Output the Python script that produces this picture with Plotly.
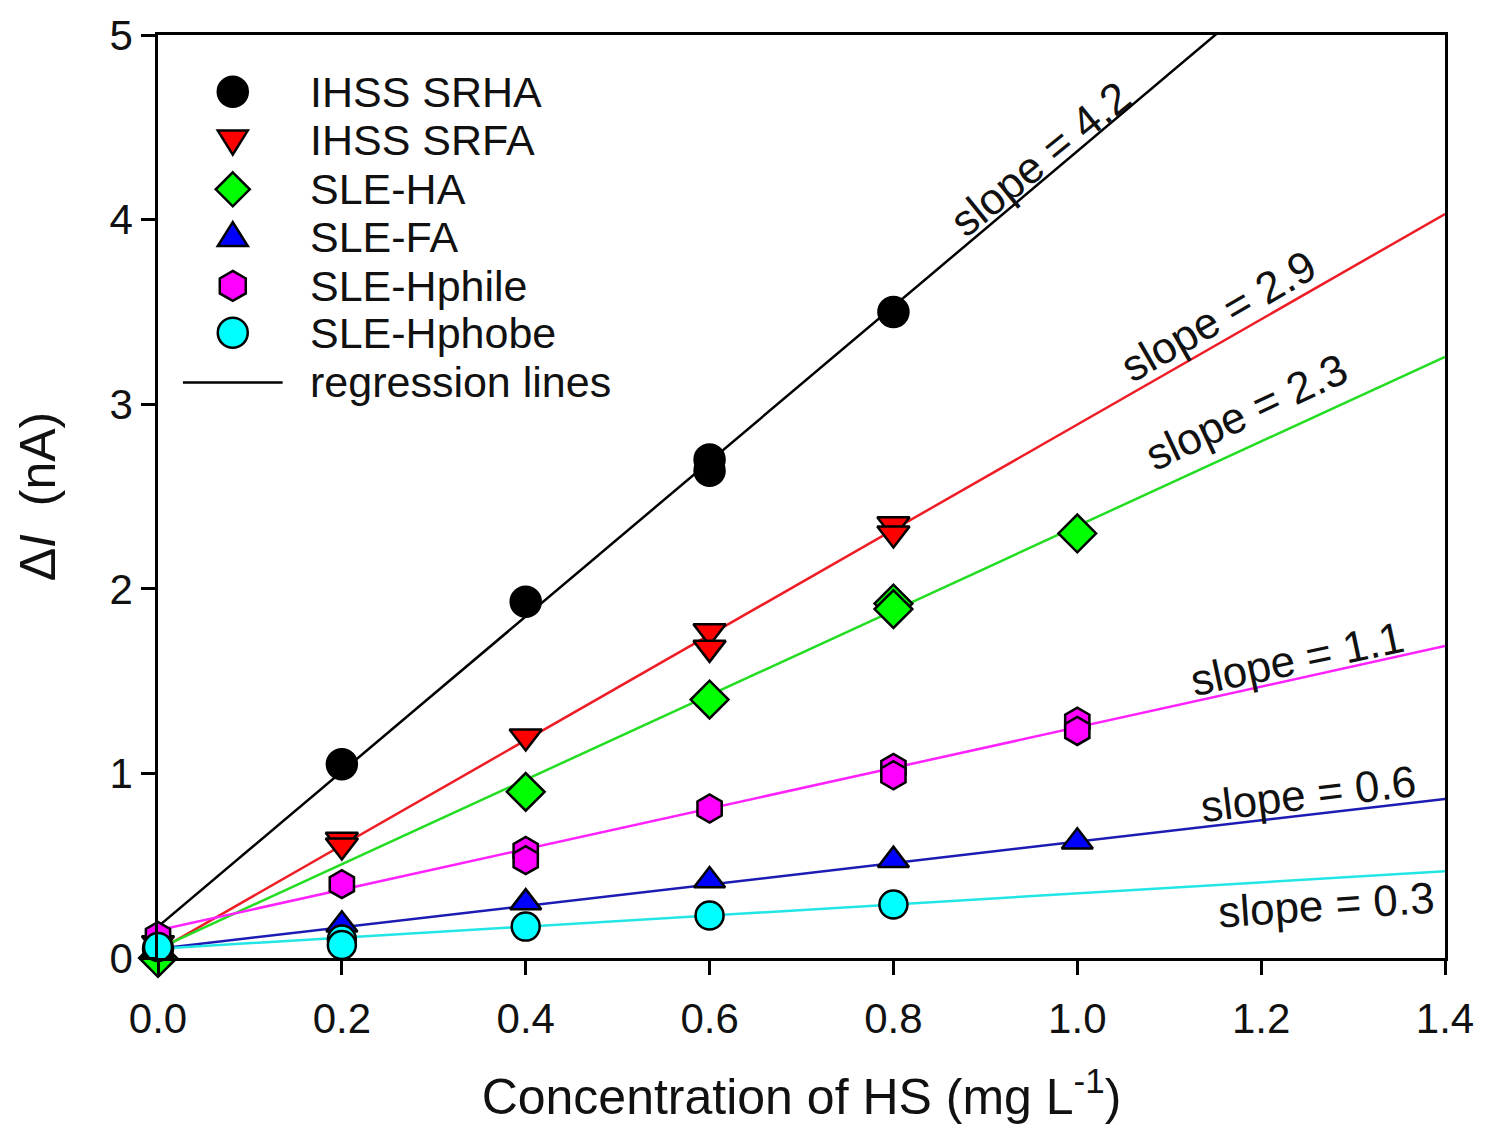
import plotly.graph_objects as go

# ---- data ----
series_names = ["IHSS SRHA", "IHSS SRFA", "SLE-HA", "SLE-FA", "SLE-Hphile", "SLE-Hphobe"]

srha_x = [0.0, 0.2, 0.4, 0.6, 0.6, 0.8]
srha_y = [0.05, 1.05, 1.93, 2.70, 2.64, 3.50]

srfa_x = [0.0, 0.2, 0.2, 0.4, 0.6, 0.6, 0.8, 0.8]
srfa_y = [0.08, 0.64, 0.61, 1.20, 1.77, 1.68, 2.35, 2.30]

sleha_x = [0.0, 0.4, 0.6, 0.8, 0.8, 1.0]
sleha_y = [0.00, 0.90, 1.40, 1.92, 1.89, 2.30]

slefa_x = [0.0, 0.2, 0.4, 0.6, 0.8, 1.0]
slefa_y = [0.04, 0.18, 0.30, 0.42, 0.53, 0.63]

hphile_x = [0.0, 0.2, 0.4, 0.4, 0.6, 0.8, 0.8, 1.0, 1.0]
hphile_y = [0.12, 0.40, 0.58, 0.53, 0.81, 1.03, 0.99, 1.28, 1.23]

hphobe_x = [0.0, 0.2, 0.2, 0.4, 0.6, 0.8]
hphobe_y = [0.06, 0.10, 0.07, 0.17, 0.23, 0.29]

# regression lines (slope, intercept), same order as series_names
reg_slopes = [4.2, 2.85, 2.29, 0.58, 1.1, 0.30]
reg_intercepts = [0.17, 0.04, 0.05, 0.05, 0.15, 0.05]
reg_x = [0.0, 1.4]

slope_labels = ["slope = 4.2", "slope = 2.9", "slope = 2.3", "slope = 1.1", "slope = 0.6", "slope = 0.3"]
label_x = [0.96, 1.154, 1.184, 1.239, 1.252, 1.271]
label_y = [4.33, 3.48, 2.96, 1.62, 0.89, 0.29]
label_angle = [-39, -30, -25, -12, -7, -4]

legend_labels = series_names + ["regression lines"]

x_ticks = [0.0, 0.2, 0.4, 0.6, 0.8, 1.0, 1.2, 1.4]
y_ticks = [0, 1, 2, 3, 4, 5]

# ---- styles ----
fills = ["#000000", "#ff0000", "#00ff00", "#0000ff", "#ff00ff", "#00ffff"]
line_colors = ["#000000", "#ee1c25", "#22dd22", "#1c1cb4", "#ff22ff", "#22e6e6"]
symbols = ["circle", "triangle-down", "diamond", "triangle-up", "hexagon", "circle"]
sizes = [30, 28, 29, 27, 28, 28]

xs = [srha_x, srfa_x, sleha_x, slefa_x, hphile_x, hphobe_x]
ys = [srha_y, srfa_y, sleha_y, slefa_y, hphile_y, hphobe_y]

FONT = "Liberation Sans, Arial, sans-serif"
TXT = "#111111"

# plot area geometry (pixels) for the hand-drawn legend
L, R, T, B = 158, 1449, 31, 958
PW, PH = R - L, B - T


def px_x(p):
    return (p - L) / PW


def px_y(p):
    return (B - p) / PH


fig = go.Figure()

for i in range(6):
    fig.add_trace(go.Scatter(
        x=reg_x,
        y=[reg_intercepts[i] + reg_slopes[i] * xv for xv in reg_x],
        mode="lines",
        line=dict(color=line_colors[i], width=2.5),
        showlegend=False,
        hoverinfo="skip",
    ))

for i in range(6):
    fig.add_trace(go.Scatter(
        x=xs[i], y=ys[i], mode="markers", name=series_names[i],
        marker=dict(symbol=symbols[i], size=sizes[i], color=fills[i],
                    line=dict(color="black", width=2.5)),
        cliponaxis=False, showlegend=False,
    ))

for t, xv, yv, a in zip(slope_labels, label_x, label_y, label_angle):
    fig.add_annotation(x=xv, y=yv, text=t, textangle=a, showarrow=False,
                       font=dict(family=FONT, size=44, color=TXT))

# ---- hand-drawn legend (symbols as pixel-sized shapes) ----
row_y = [88, 136, 186, 234, 283, 330, 380]
sym_x = 233
text_x = 308
r = 15
h = 0.866 * r
symbol_paths = {
    "circle": None,
    "triangle-down": f"M{-r},{r*0.6} L{r},{r*0.6} L0,{-r} Z",
    "triangle-up": f"M{-r},{-r*0.6} L{r},{-r*0.6} L0,{r} Z",
    "diamond": f"M0,{r+2} L{r+2},0 L0,{-(r+2)} L{-(r+2)},0 Z",
    "hexagon": f"M0,{r} L{h},{r/2} L{h},{-r/2} L0,{-r} L{-h},{-r/2} L{-h},{r/2} Z",
}
for i in range(6):
    ax, ay = px_x(sym_x), px_y(row_y[i])
    common = dict(xref="paper", yref="paper", xsizemode="pixel", ysizemode="pixel",
                  xanchor=ax, yanchor=ay, fillcolor=fills[i],
                  line=dict(color="black", width=2.5), layer="above")
    if symbols[i] == "circle":
        fig.add_shape(type="circle", x0=-r, x1=r, y0=-r, y1=r, **common)
    else:
        fig.add_shape(type="path", path=symbol_paths[symbols[i]], **common)

fig.add_shape(type="line", xref="paper", yref="paper",
              x0=px_x(183), x1=px_x(283), y0=px_y(row_y[6]), y1=px_y(row_y[6]),
              line=dict(color="black", width=2.5))

for i, lab in enumerate(legend_labels):
    fig.add_annotation(xref="paper", yref="paper", x=px_x(text_x), y=px_y(row_y[i]),
                       xanchor="left", yanchor="middle", text=lab, showarrow=False,
                       font=dict(family=FONT, size=43, color=TXT))

axis_common = dict(
    showline=True, linecolor="black", linewidth=2.5, mirror=True,
    ticks="outside", ticklen=14, tickwidth=2.5, tickcolor="black",
    showgrid=False, zeroline=False,
    tickfont=dict(family=FONT, size=42, color=TXT),
)

fig.update_layout(
    width=1486, height=1128,
    margin=dict(l=L, r=1486 - R, t=T, b=1128 - B),
    paper_bgcolor="white", plot_bgcolor="white",
    font=dict(family=FONT, color=TXT),
    xaxis=dict(range=[0, 1.4], tickvals=x_ticks, tickformat=".1f",
               ticklabelstandoff=8,
               title=dict(text="Concentration of HS (mg L<sup>-1</sup>)",
                          font=dict(family=FONT, size=50, color=TXT), standoff=38),
               **axis_common),
    yaxis=dict(range=[0, 5], tickvals=y_ticks,
               title=dict(text="Δ<i>I</i>  (nA)", font=dict(family=FONT, size=50, color=TXT),
                          standoff=38),
               **axis_common),
    showlegend=False,
)

fig.write_html("out.html")
